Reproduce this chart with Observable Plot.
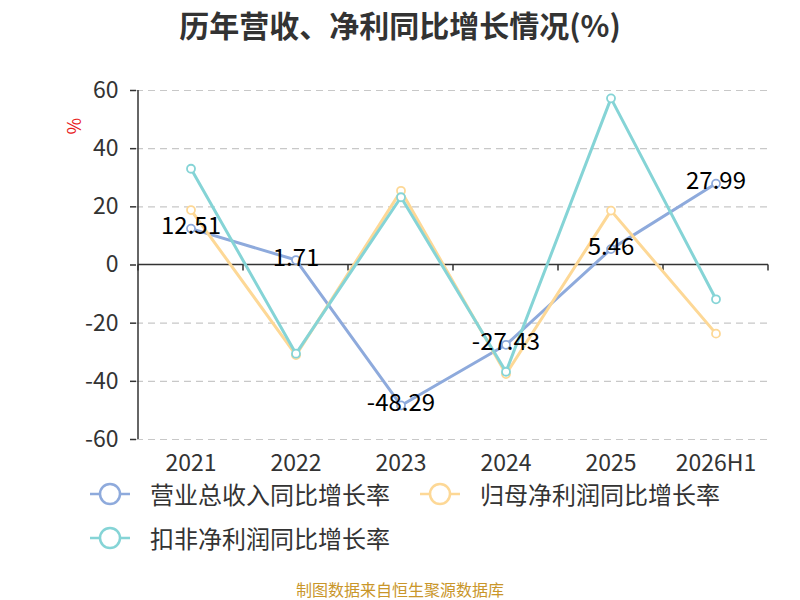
<!DOCTYPE html>
<html>
<head>
<meta charset="utf-8">
<script src="https://cdn.jsdelivr.net/npm/d3@7"></script>
<script src="https://cdn.jsdelivr.net/npm/@observablehq/plot@0.6"></script>
<style>
  html, body { margin: 0; padding: 0; background: #fff; }
  body { width: 800px; height: 600px; position: relative; overflow: hidden;
         font-family: "Noto Sans CJK SC", "Noto Sans", sans-serif; }
  #title { height: 45px; line-height: 48px; text-align: center; font-size: 30px; font-weight: bold; color: #333; }
  #chart svg { display: block; }
  #legend { position: absolute; left: 0; top: 482px; width: 800px; font-size: 24px; color: #333; }
  .item { display: flex; align-items: center; position: absolute; height: 24px; }
  .item svg { margin-right: 10px; }
  .item span { display: block; height: 24px; line-height: 24px; white-space: nowrap; }
  #footer { position: absolute; left: 0; width: 800px; top: 578px; line-height: 22px; text-align: center; font-size: 16px; color: #c9962a; }
</style>
</head>
<body>
<div id="title">历年营收、净利同比增长情况(%)</div>
<div id="chart"></div>
<div id="legend"></div>
<div id="footer">制图数据来自恒生聚源数据库</div>
<script>
const categories = ["2021", "2022", "2023", "2024", "2025", "2026H1"];
const seriesNames = ["营业总收入同比增长率", "归母净利润同比增长率", "扣非净利润同比增长率"];
const seriesColors = ["#8eaadc", "#fdd896", "#85d4d6"];
const revenueGrowth = [12.51, 1.71, -48.29, -27.43, 5.46, 27.99];
const netProfitGrowth = [18.9, -31.0, 25.5, -37.5, 18.7, -23.6];
const deductedProfitGrowth = [33.1, -30.5, 23.3, -36.7, 57.3, -11.8];
const yTicks = [-60, -40, -20, 0, 20, 40, 60];

const allValues = [revenueGrowth, netProfitGrowth, deductedProfitGrowth];
const data = [];
allValues.forEach((vals, s) => vals.forEach((v, i) => data.push({series: seriesNames[s], cat: categories[i], value: v, s})));
const revData = data.filter(d => d.s === 0);

function axisFrame(index, scales, values, dims) {
  const x = scales.x, y = scales.y;
  const g = d3.create("svg:g").attr("stroke", "#333").attr("stroke-width", 1.5);
  const bw = x.bandwidth();
  const x0 = x(categories[0]);
  g.append("line").attr("x1", x0).attr("x2", x0).attr("y1", y(60)).attr("y2", y(-60));
  const xEnd = x(categories[categories.length - 1]) + bw;
  g.append("line").attr("x1", x0).attr("x2", xEnd).attr("y1", y(0)).attr("y2", y(0));
  const bounds = categories.map(c => x(c)).concat([xEnd]);
  bounds.forEach(b => g.append("line").attr("x1", b).attr("x2", b).attr("y1", y(0)).attr("y2", y(0) + 6));
  return g.node();
}

const marks = [
  Plot.gridY(yTicks.filter(t => t !== 0), {stroke: "#c8c8c8", strokeOpacity: 1, strokeWidth: 1.2, strokeDasharray: "7,5"}),
  Plot.axisY(yTicks, {tickSize: 6, tickPadding: 12, fontSize: 23, fill: "#333", stroke: "#333", strokeWidth: 1.5, label: null, tickFormat: d => String(d)}),
  Plot.axisX(categories, {tickSize: 0, tickPadding: 15, fontSize: 23, fill: "#333", label: null}),
  axisFrame
];
[0, 1, 2].forEach(s => {
  const d = data.filter(e => e.s === s);
  marks.push(Plot.line(d, {x: "cat", y: "value", stroke: seriesColors[s], strokeWidth: 3}));
});
[0, 1, 2].forEach(s => {
  const d = data.filter(e => e.s === s);
  marks.push(Plot.dot(d, {x: "cat", y: "value", r: 4, fill: "#fff", stroke: seriesColors[s], strokeWidth: 1.8}));
});
marks.push(Plot.text(revData, {x: "cat", y: "value", text: d => d.value.toFixed(2), fontSize: 24, fill: "#000", dy: -2}));
marks.push(Plot.text(["%"], {frameAnchor: "top-left", text: d => d, rotate: -90, dx: -68, dy: 44, fill: "#e8201c", fontSize: 18}));

const chart = Plot.plot({
  width: 800,
  height: 440,
  marginLeft: 136,
  marginRight: 31,
  marginTop: 45,
  marginBottom: 46,
  style: {fontFamily: '"Noto Sans CJK SC", "Noto Sans", sans-serif', background: "#fff", overflow: "visible"},
  x: {type: "band", domain: categories, padding: 0},
  y: {domain: [-60, 60]},
  marks
});
document.getElementById("chart").appendChild(chart);

const legend = document.getElementById("legend");
const positions = [[90, 0], [420, 0], [90, 44]];
seriesNames.forEach((name, i) => {
  const item = document.createElement("div");
  item.className = "item";
  item.style.left = positions[i][0] + "px";
  item.style.top = positions[i][1] + "px";
  item.innerHTML = `<svg width="50" height="24" style="overflow:visible"><line x1="0" x2="40" y1="12" y2="12" stroke="${seriesColors[i]}" stroke-width="2.5"/><circle cx="20" cy="12" r="10" fill="#fff" stroke="${seriesColors[i]}" stroke-width="2.5"/></svg><span>${name}</span>`;
  legend.appendChild(item);
});
</script>
</body>
</html>
